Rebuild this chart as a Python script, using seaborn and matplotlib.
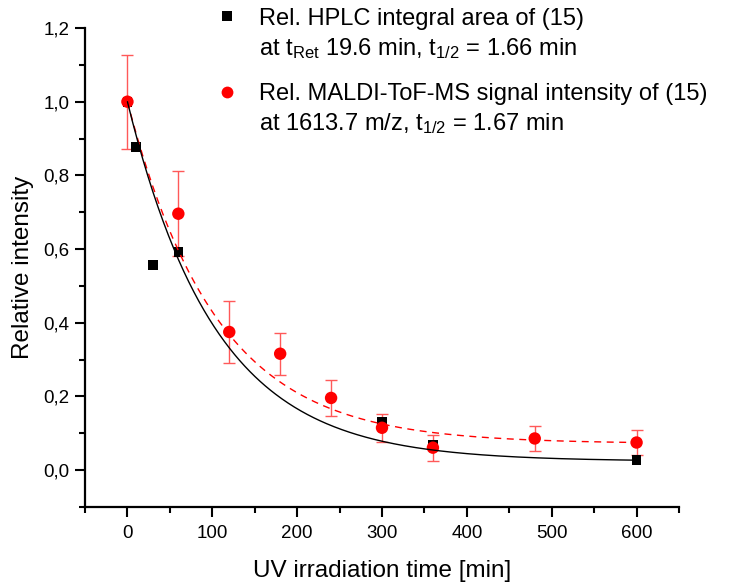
import numpy as np
import pandas as pd
import matplotlib
matplotlib.use("Agg")
import matplotlib.pyplot as plt
from matplotlib.lines import Line2D
from matplotlib.ticker import MultipleLocator, FuncFormatter
import seaborn as sns

# ---- data ----
hplc_time = [0, 10, 30, 60, 300, 360, 600]
hplc_rel = [1.0, 0.877, 0.557, 0.592, 0.132, 0.068, 0.027]

maldi_time = [0, 60, 120, 180, 240, 300, 360, 480, 600]
maldi_rel = [1.0, 0.696, 0.375, 0.316, 0.196, 0.115, 0.061, 0.086, 0.075]
maldi_err = [0.128, 0.116, 0.083, 0.057, 0.050, 0.038, 0.035, 0.034, 0.034]

# exponential decay fits y = y0 + A*exp(-t/tau)
hplc_fit = dict(y0=0.024, A=0.976, tau=104.0)
maldi_fit = dict(y0=0.072, A=0.928, tau=105.0)

x_ticks = [0, 100, 200, 300, 400, 500, 600]
y_ticks = [0.0, 0.2, 0.4, 0.6, 0.8, 1.0, 1.2]

label_hplc = ["Rel. HPLC integral area of (15)",
              r"at t$_{\mathrm{Ret}}$ 19.6 min, t$_{1/2}$ = 1.66 min"]
label_maldi = ["Rel. MALDI-ToF-MS signal intensity of (15)",
               r"at 1613.7 m/z, t$_{1/2}$ = 1.67 min"]

# ---- style ----
sns.set_style("ticks")
plt.rcParams["font.family"] = ["Liberation Sans", "DejaVu Sans"]
plt.rcParams["mathtext.default"] = "regular"
plt.rcParams["mathtext.fontset"] = "custom"
plt.rcParams["mathtext.rm"] = "Liberation Sans"
for k in ["text.color", "axes.labelcolor", "xtick.color", "ytick.color",
          "axes.edgecolor"]:
    plt.rcParams[k] = "black"

fig = plt.figure(figsize=(7.36, 5.82), dpi=100)
ax = fig.add_axes([85 / 736, 75 / 582, (679 - 85) / 736, (507 - 28) / 582])

# fitted curves
t_fit = np.linspace(0, 600, 400)
fit_df = pd.DataFrame({
    "t": t_fit,
    "hplc": hplc_fit["y0"] + hplc_fit["A"] * np.exp(-t_fit / hplc_fit["tau"]),
    "maldi": maldi_fit["y0"] + maldi_fit["A"] * np.exp(-t_fit / maldi_fit["tau"]),
})

hplc_df = pd.DataFrame({"t": hplc_time, "y": hplc_rel})
maldi_df = pd.DataFrame({"t": maldi_time, "y": maldi_rel, "e": maldi_err})

# error bars
ax.errorbar(maldi_df["t"], maldi_df["y"], yerr=maldi_df["e"], fmt="none",
            ecolor=(1.0, 0.35, 0.35), elinewidth=1.0, capsize=4, capthick=1.0,
            zorder=2)

sns.scatterplot(data=hplc_df, x="t", y="y", marker="s", s=48, color="black",
                edgecolor="none", ax=ax, zorder=3, legend=False)
sns.scatterplot(data=maldi_df, x="t", y="y", marker="o", s=80, color="#ff0000",
                edgecolor="none", ax=ax, zorder=4, legend=False)

sns.lineplot(data=fit_df, x="t", y="maldi", color="#ff0000", lw=1.0,
             linestyle=(0, (5, 4)), ax=ax, zorder=5)
sns.lineplot(data=fit_df, x="t", y="hplc", color="black", lw=1.0, ax=ax,
             zorder=6)

# axes
ax.set_xlim(-50, 650)
ax.set_ylim(-0.1, 1.2)
ax.set_xticks(x_ticks)
ax.set_yticks(y_ticks)
ax.xaxis.set_minor_locator(MultipleLocator(50))
ax.yaxis.set_minor_locator(MultipleLocator(0.1))
ax.yaxis.set_major_formatter(FuncFormatter(lambda v, p: f"{v:.1f}".replace(".", ",")))
ax.tick_params(axis="both", which="major", length=7, width=1.5,
               labelsize=13.5, direction="out", pad=4)
ax.tick_params(axis="x", which="major", pad=6)
ax.tick_params(axis="both", which="minor", length=4, width=1.5,
               direction="out")
for side in ["top", "right"]:
    ax.spines[side].set_visible(False)
for side in ["left", "bottom"]:
    ax.spines[side].set_linewidth(1.6)

ax.set_xlabel("UV irradiation time [min]", fontsize=17.5, labelpad=13)
ax.set_ylabel("Relative intensity", fontsize=17.5, labelpad=7)

# legends (one per series, marker aligned to first label line)
blank = Line2D([], [], linestyle="none", marker=None)
h_sq = Line2D([], [], linestyle="none", marker="s", color="black",
              markersize=6.8, markeredgewidth=0)
h_ci = Line2D([], [], linestyle="none", marker="o", color="#ff0000",
              markersize=8.5, markeredgewidth=0)
leg_kw = dict(loc="upper left", frameon=False, fontsize=17, handlelength=0.8,
              handletextpad=0.95, labelspacing=0.25, borderaxespad=0)
leg1 = ax.legend([h_sq, blank], label_hplc,
                 bbox_to_anchor=(0.207, 1.062), **leg_kw)
ax.add_artist(leg1)
leg2 = ax.legend([h_ci, blank], label_maldi,
                 bbox_to_anchor=(0.207, 0.905), **leg_kw)

fig.savefig("out.png", dpi=100)
